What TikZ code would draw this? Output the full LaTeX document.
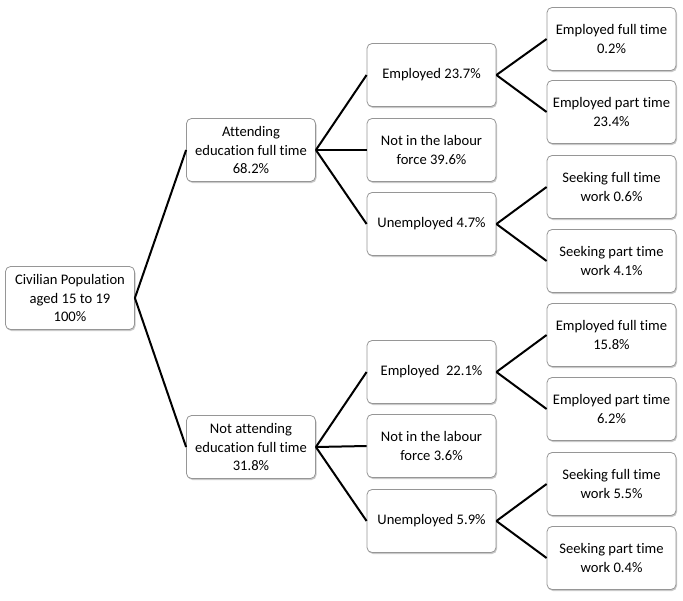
\documentclass[tikz,border=0pt]{standalone}
\usepackage{fontspec}
\setmainfont[Ligatures=CommonOff]{Carlito}
\usetikzlibrary{shadows}
\definecolor{boxline}{RGB}{150,150,150}
\begin{document}
\begin{tikzpicture}[x=1pt,y=-1pt,
  box/.style={draw=boxline, line width=0.8pt, fill=white, rounded corners=5pt,
    minimum width=129pt, minimum height=63pt, align=center, inner sep=1pt,
    font=\fontsize{14.6}{18.5}\selectfont,
    drop shadow={shadow xshift=1pt, shadow yshift=-1.5pt, fill=black!35, opacity=0.6}},
  link/.style={line width=2pt, black}]
\useasboundingbox (0,0) rectangle (683,600);
% level 0
\node[box] (root) at (70,298) {Civilian Population\\aged 15 to 19\\100\%};
% level 1
\node[box] (att) at (251,150) {Attending\\education full time\\68.2\%};
\node[box] (natt) at (251,447) {Not attending\\education full time\\31.8\%};
% level 2
\node[box] (e1) at (431.5,75) {Employed 23.7\%};
\node[box] (n1) at (431.5,150) {Not in the labour\\force 39.6\%};
\node[box] (u1) at (431.5,224) {Unemployed 4.7\%};
\node[box] (e2) at (431.5,372) {Employed\ \ 22.1\%};
\node[box] (n2) at (431.5,446) {Not in the labour\\force 3.6\%};
\node[box] (u2) at (431.5,521) {Unemployed 5.9\%};
% level 3
\node[box] (e1f) at (611.5,39) {Employed full time\\0.2\%};
\node[box] (e1p) at (611.5,112) {Employed part time\\23.4\%};
\node[box] (u1f) at (611.5,187) {Seeking full time\\work 0.6\%};
\node[box] (u1p) at (611.5,261) {Seeking part time\\work 4.1\%};
\node[box] (e2f) at (611.5,335) {Employed full time\\15.8\%};
\node[box] (e2p) at (611.5,409) {Employed part time\\6.2\%};
\node[box] (u2f) at (611.5,484) {Seeking full time\\work 5.5\%};
\node[box] (u2p) at (611.5,558) {Seeking part time\\work 0.4\%};
% connectors
\draw[link] (root.east) -- (att.west);
\draw[link] (root.east) -- (natt.west);
\draw[link] (att.east) -- (e1.west);
\draw[link] (att.east) -- (n1.west);
\draw[link] (att.east) -- (u1.west);
\draw[link] (natt.east) -- (e2.west);
\draw[link] (natt.east) -- (n2.west);
\draw[link] (natt.east) -- (u2.west);
\draw[link] (e1.east) -- (e1f.west);
\draw[link] (e1.east) -- (e1p.west);
\draw[link] (u1.east) -- (u1f.west);
\draw[link] (u1.east) -- (u1p.west);
\draw[link] (e2.east) -- (e2f.west);
\draw[link] (e2.east) -- (e2p.west);
\draw[link] (u2.east) -- (u2f.west);
\draw[link] (u2.east) -- (u2p.west);
\end{tikzpicture}
\end{document}
